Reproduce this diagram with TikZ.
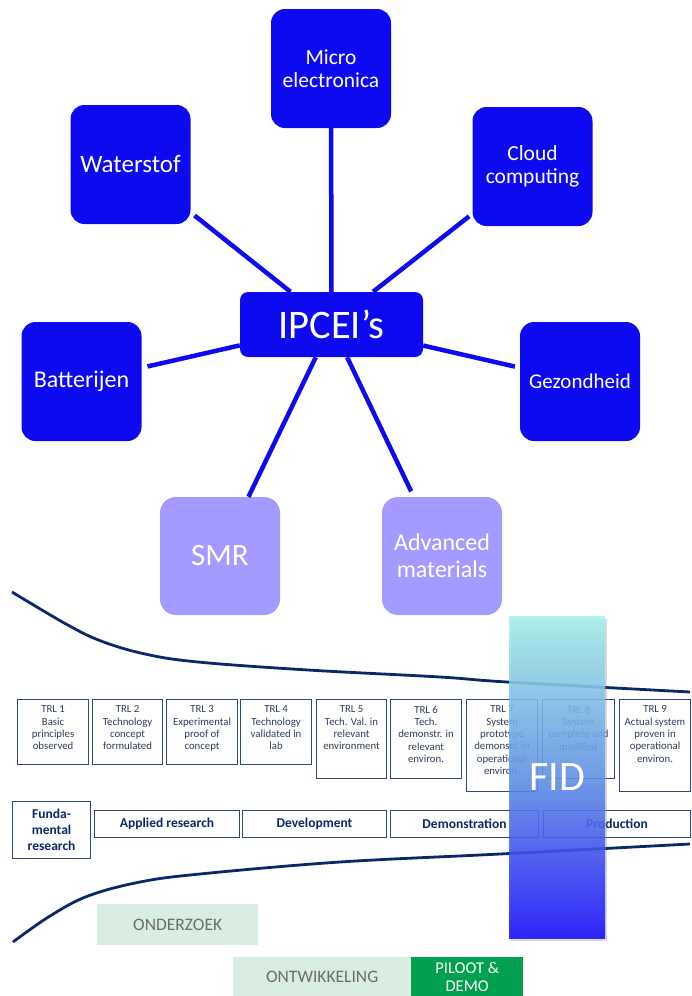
\documentclass[tikz,border=0pt]{standalone}
\usepackage{fontspec}
\setmainfont{Carlito}
\usetikzlibrary{shadows}
\definecolor{ipblue}{RGB}{14,10,240}
\definecolor{lilac}{RGB}{163,155,255}
\definecolor{navy}{RGB}{10,40,105}
\definecolor{trlc}{RGB}{45,70,125}
\definecolor{trltxt}{RGB}{45,60,95}
\definecolor{paleg}{RGB}{217,238,226}
\definecolor{grtxt}{RGB}{105,110,108}
\definecolor{darkg}{RGB}{0,160,78}
\definecolor{fidtop}{RGB}{165,240,235}
\definecolor{fidmid}{RGB}{95,145,232}
\definecolor{fidbot}{RGB}{18,5,255}
\tikzset{
  hub/.style={fill=ipblue, rounded corners=14pt, minimum width=120pt, minimum height=119pt,
    text=white, align=center, inner sep=2pt},
  soft/.style={fill=lilac, rounded corners=16pt, minimum width=120pt, minimum height=118pt,
    text=white, align=center, inner sep=2pt},
  conn/.style={draw=ipblue, line width=4.5pt},
  trlbox/.style={draw=trlc, line width=1.1pt, fill=white, anchor=north west, inner sep=0pt},
  trltext/.style={text=trltxt, align=center, anchor=north, inner sep=0pt,
    font=\fontsize{10.8}{12.4}\selectfont},
  phase/.style={draw=trlc, line width=1.1pt, fill=white, anchor=north west, inner sep=0pt,
    text=navy, align=center, font=\bfseries\fontsize{13.5}{16}\selectfont},
  curve/.style={draw=navy, line width=2.8pt},
  stage/.style={fill=paleg, anchor=north west, inner sep=0pt, text=grtxt,
    font=\fontsize{17.5}{20}\selectfont},
}
\begin{document}
\begin{tikzpicture}[x=1pt,y=-1pt]
\useasboundingbox (0,0) rectangle (691,996);
\clip (0,0) rectangle (691,996);

% hub diagram
\node[hub, font=\fontsize{21.5}{23}\selectfont] (mi) at (331,68.5) {Micro\\electronica};
\node[hub, font=\fontsize{25}{28}\selectfont] (wa) at (130.5,164.5) {Waterstof};
\node[hub, font=\fontsize{21.5}{23}\selectfont] (cl) at (532.5,166.5) {Cloud\\computing};
\node[hub, font=\fontsize{24}{28}\selectfont] (ba) at (81.5,381.5) {Batterijen};
\node[hub, font=\fontsize{21}{24}\selectfont] (ge) at (580,381.5) {Gezondheid};
\node[soft, font=\fontsize{31}{34}\selectfont] (smr) at (220,556) {SMR};
\node[soft, font=\fontsize{24}{27}\selectfont] (am) at (442,556) {Advanced\\materials};
\node[fill=ipblue, rounded corners=8pt, minimum width=183pt, minimum height=65pt,
  text=white, font=\fontsize{40.5}{44}\selectfont, inner sep=0pt] (ip) at (331.5,324.5) {IPCEI’s};

\draw[conn] (ip) -- (mi);
\draw[conn, shorten >=5pt] (ip) -- (wa);
\draw[conn, shorten >=4pt] (ip) -- (cl);
\draw[conn, shorten >=6pt] (ip) -- (ba);
\draw[conn, shorten >=5pt] (ip) -- (ge);
\draw[conn] (ip) -- (smr);
\draw[conn, shorten >=6pt] (ip) -- (am);

% curves
\draw[curve] plot[smooth, tension=0.6] coordinates {(12,592) (66,624) (101,641) (145,654) (198,662) (308,670) (440,677) (507,682) (690,692)};
\draw[curve] plot[smooth, tension=0.6] coordinates {(13,942) (50,916) (88,896) (140,882) (200,874) (340,862) (500,854) (690,844)};

% TRL boxes
\node[trlbox, minimum width=71pt, minimum height=65pt] (t1) at (17,699) {};
\node[trltext] (t1x) at ([yshift=-6.5pt]t1.north) {TRL 1\\Basic\\principles\\observed};
\node[trlbox, minimum width=70pt, minimum height=65pt] (t2) at (92,699) {};
\node[trltext] (t2x) at ([yshift=-6.5pt]t2.north) {TRL 2\\Technology\\concept\\formulated};
\node[trlbox, minimum width=71pt, minimum height=65pt] (t3) at (166,699) {};
\node[trltext] (t3x) at ([yshift=-6.5pt]t3.north) {TRL 3\\Experimental\\proof of\\concept};
\node[trlbox, minimum width=71pt, minimum height=65pt] (t4) at (240,699) {};
\node[trltext] (t4x) at ([yshift=-6.5pt]t4.north) {TRL 4\\Technology\\validated in\\lab};
\node[trlbox, minimum width=70pt, minimum height=79pt] (t5) at (316,699) {};
\node[trltext] (t5x) at ([yshift=-6.5pt]t5.north) {TRL 5\\Tech. Val. in\\relevant\\environment};
\node[trlbox, minimum width=71pt, minimum height=79pt] (t6) at (390,699) {};
\node[trltext] (t6x) at ([yshift=-6.5pt]t6.north) {TRL 6\\Tech.\\demonstr. in\\relevant\\environ.};
\node[trlbox, minimum width=71pt, minimum height=92pt] (t7) at (466,699) {};
\node[trltext] (t7x) at ([yshift=-6.5pt]t7.north) {TRL 7\\System\\prototype\\demonstr. in\\operational\\environ.};
\node[trlbox, minimum width=72pt, minimum height=79pt] (t8) at (542,699) {};
\node[trltext] (t8x) at ([yshift=-6.5pt]t8.north) {TRL 8\\System\\complete and\\qualified};
\node[trlbox, minimum width=71pt, minimum height=92pt] (t9) at (619,699) {};
\node[trltext] (t9x) at ([yshift=-6.5pt]t9.north) {TRL 9\\Actual system\\proven in\\operational\\environ.};

% phases
\node[phase, minimum width=78pt, minimum height=57pt] (p1) at (12,801) {Funda-\\mental\\research};
\node[phase, minimum width=145pt, minimum height=27pt] (p2) at (94,810) {Applied research};
\node[phase, minimum width=144pt, minimum height=27pt] (p3) at (242,810) {Development};
\node[phase, minimum width=148pt, minimum height=27pt] (p4) at (390,810) {Demonstration};
\node[phase, minimum width=147pt, minimum height=27pt] (p5) at (543,810) {Production};

% FID bar
\node[minimum width=96pt, minimum height=322pt, inner sep=0pt,
  top color=fidtop, bottom color=fidbot, middle color=fidmid, fill opacity=0.85, text opacity=1,
  drop shadow={opacity=0.3, shadow xshift=2pt, shadow yshift=-3pt},
  text=white, font=\fontsize{42}{46}\selectfont] (fid) at (557,777) {FID};

% stages
\node[stage, minimum width=161pt, minimum height=41pt] (s1) at (97,904) {ONDERZOEK};
\node[stage, minimum width=178pt, minimum height=39pt] (s2) at (233,957) {ONTWIKKELING};
\node[stage, fill=darkg, text=white, align=center, minimum width=112pt, minimum height=39pt,
  font=\fontsize{16.5}{18}\selectfont] (s3) at (411,957) {PILOOT \&\\DEMO};
\end{tikzpicture}
\end{document}
